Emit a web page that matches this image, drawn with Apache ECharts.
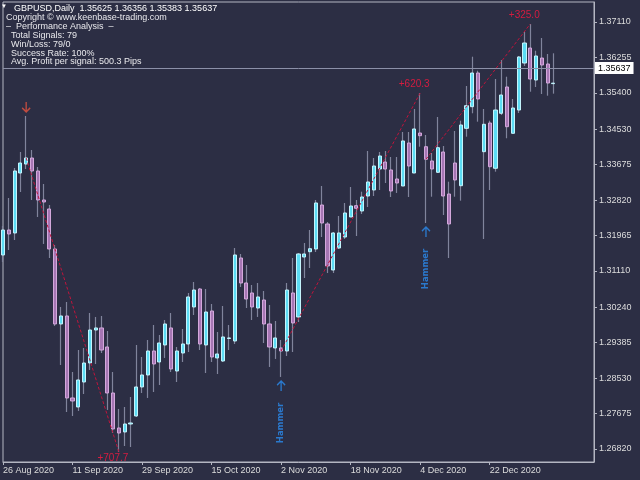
<!DOCTYPE html>
<html><head><meta charset="utf-8">
<script src="https://cdn.jsdelivr.net/npm/echarts@6/dist/echarts.min.js"></script>
<style>html,body{margin:0;padding:0;background:#2c2e44;}#c{width:640px;height:480px;}</style>
</head><body><div id="c"></div>
<script>
const dates = ['26 Aug 2020','27 Aug 2020','28 Aug 2020','31 Aug 2020','1 Sep 2020','2 Sep 2020','3 Sep 2020','4 Sep 2020','7 Sep 2020','8 Sep 2020','9 Sep 2020','10 Sep 2020',
'11 Sep 2020','14 Sep 2020','15 Sep 2020','16 Sep 2020','17 Sep 2020','18 Sep 2020','21 Sep 2020','22 Sep 2020','23 Sep 2020','24 Sep 2020','25 Sep 2020','28 Sep 2020',
'29 Sep 2020','30 Sep 2020','1 Oct 2020','2 Oct 2020','5 Oct 2020','6 Oct 2020','7 Oct 2020','8 Oct 2020','9 Oct 2020','12 Oct 2020','13 Oct 2020','14 Oct 2020',
'15 Oct 2020','16 Oct 2020','19 Oct 2020','20 Oct 2020','21 Oct 2020','22 Oct 2020','23 Oct 2020','26 Oct 2020','27 Oct 2020','28 Oct 2020','29 Oct 2020','30 Oct 2020',
'2 Nov 2020','3 Nov 2020','4 Nov 2020','5 Nov 2020','6 Nov 2020','9 Nov 2020','10 Nov 2020','11 Nov 2020','12 Nov 2020','13 Nov 2020','16 Nov 2020','17 Nov 2020',
'18 Nov 2020','19 Nov 2020','20 Nov 2020','23 Nov 2020','24 Nov 2020','25 Nov 2020','26 Nov 2020','27 Nov 2020','30 Nov 2020','1 Dec 2020','2 Dec 2020','3 Dec 2020',
'4 Dec 2020','7 Dec 2020','8 Dec 2020','9 Dec 2020','10 Dec 2020','11 Dec 2020','14 Dec 2020','15 Dec 2020','16 Dec 2020','17 Dec 2020','18 Dec 2020','21 Dec 2020',
'22 Dec 2020','23 Dec 2020','24 Dec 2020','28 Dec 2020','29 Dec 2020','30 Dec 2020','31 Dec 2020','4 Jan 2021','5 Jan 2021','6 Jan 2021','7 Jan 2021','8 Jan 2021'];
// empty slots to the right of the last bar (chart shift)
const emptySlots = ['','','','','','',''];

const opens = [1.31496,1.32098,1.32026,1.33471,1.33688,1.33833,1.33520,1.32821,1.32604,1.31640,1.29833,1.30026,
1.28050,1.27833,1.28435,1.28893,1.29688,1.29737,1.29279,1.28170,1.27327,1.27231,1.27423,1.27616,
1.28315,1.28604,1.29182,1.28917,1.29327,1.29737,1.28700,1.29134,1.29351,1.30243,1.30676,1.29327,
1.30146,1.29014,1.28941,1.29484,1.29423,1.31423,1.30821,1.30580,1.30218,1.30411,1.29833,1.29255,
1.29255,1.29182,1.30580,1.30002,1.31447,1.31575,1.31640,1.32700,1.32243,1.31134,1.31664,1.31929,
1.32411,1.32684,1.32556,1.32917,1.33062,1.33568,1.33736,1.33544,1.33327,1.33158,1.34194,1.33471,
1.34435,1.34105,1.33761,1.33488,1.33977,1.32965,1.33712,1.33165,1.34548,1.35069,1.35881,1.33985,
1.34676,1.33585,1.34910,1.35544,1.34428,1.34989,1.36122,1.36483,1.35712,1.36242,1.36098,1.35625];
const highs = [1.32194,1.32869,1.33592,1.33977,1.34845,1.34026,1.33616,1.33206,1.32700,1.31737,1.30243,1.30363,
1.28676,1.29206,1.29255,1.30098,1.30002,1.30026,1.29664,1.28676,1.27785,1.27833,1.28074,1.29327,
1.29038,1.29447,1.29809,1.29568,1.29929,1.30098,1.29279,1.29712,1.30580,1.30845,1.30700,1.30676,
1.30315,1.29640,1.30267,1.29809,1.31664,1.31520,1.31255,1.30773,1.30821,1.30628,1.30291,1.29905,
1.29447,1.30821,1.31423,1.31544,1.31785,1.32098,1.32821,1.33158,1.32291,1.32050,1.32435,1.32749,
1.33134,1.32821,1.33021,1.34002,1.33833,1.33977,1.34002,1.33857,1.33857,1.34459,1.34459,1.35014,
1.35399,1.34387,1.33953,1.34821,1.34122,1.33262,1.34483,1.34732,1.35568,1.36274,1.35936,1.35014,
1.34732,1.35736,1.36194,1.35792,1.35255,1.36291,1.36876,1.37062,1.36418,1.36724,1.36339,1.36356];
const lows = [1.31327,1.31616,1.31857,1.33014,1.33568,1.32821,1.32411,1.31761,1.31423,1.29785,1.28845,1.27712,
1.27616,1.27737,1.28146,1.28725,1.28869,1.29134,1.27761,1.27206,1.26749,1.26893,1.26869,1.27592,
1.28170,1.28050,1.28194,1.28363,1.29014,1.28676,1.28435,1.28917,1.29158,1.30050,1.29206,1.28652,
1.28917,1.28628,1.28917,1.29206,1.29351,1.30724,1.30218,1.29929,1.30002,1.29375,1.28797,1.28990,
1.28556,1.29062,1.29158,1.29881,1.30941,1.31182,1.31568,1.31929,1.31062,1.31062,1.31640,1.31881,
1.32411,1.31953,1.32484,1.32652,1.32917,1.33062,1.33230,1.32893,1.32990,1.33158,1.32893,1.33471,
1.34105,1.32267,1.32900,1.33471,1.32459,1.31423,1.32900,1.32804,1.34346,1.34910,1.34708,1.31881,
1.33062,1.33503,1.34869,1.34308,1.34428,1.34917,1.36050,1.35430,1.35544,1.35375,1.35334,1.35383];
const closes = [1.32098,1.32002,1.33520,1.33712,1.33833,1.33520,1.32821,1.32773,1.31640,1.29833,1.30026,1.28050,
1.27978,1.28484,1.28893,1.29688,1.29737,1.29206,1.28170,1.27303,1.27206,1.27423,1.27447,1.28315,
1.28604,1.29182,1.28869,1.29375,1.29833,1.28749,1.29182,1.29351,1.30484,1.30652,1.29351,1.30122,
1.29038,1.29110,1.29520,1.29496,1.31496,1.30821,1.30435,1.30243,1.30484,1.29833,1.29279,1.29496,
1.29182,1.30652,1.29857,1.31520,1.31520,1.31647,1.32749,1.32267,1.31231,1.32026,1.32026,1.32508,
1.32676,1.32621,1.32893,1.33255,1.33640,1.33881,1.33568,1.33038,1.33230,1.34243,1.33640,1.34532,
1.34370,1.33802,1.33568,1.34081,1.32917,1.32243,1.33303,1.34628,1.35093,1.35881,1.35255,1.34645,
1.33623,1.34989,1.35351,1.34587,1.35038,1.36267,1.36604,1.35736,1.36291,1.36074,1.35640,1.35637];

const priceTicks = [1.26820,1.27675,1.28530,1.29385,1.30240,1.31110,1.31965,1.32820,1.33675,1.34530,1.35400,1.36255,1.37110];
const priceMin = 1.26507, priceMax = 1.37592;
const lastPrice = 1.35637;

const hammerIdx = [48, 73];
const sellSignalIdx = [4];
const tradeStartIdx = [4, 48, 73];
const tradeStartPx = [1.33833, 1.29182, 1.33802];
const tradeEndIdx = [20, 72, 91];
const tradeEndPx = [1.26749, 1.35399, 1.37062];
const tradeLabels = ['+707.7', '+620.3', '+325.0'];
const tradeDir = ['sell', 'buy', 'buy'];

const infoLines = ['Copyright \u00A9 www.keenbase-trading.com', '\u2013  Performance Analysis  \u2013',
  'Total Signals: 79', 'Win/Loss: 79/0', 'Success Rate: 100%', 'Avg. Profit per signal: 500.3 Pips'];
const headerText = 'GBPUSD,Daily  1.35625 1.36356 1.35383 1.35637';

const FONT = '"Liberation Sans", Arial, sans-serif';
const BG = '#2c2e44', FRAME = '#b4b6c2', TXT = '#dcdcdc';
const categories = dates.concat(emptySlots);

const wickData = opens.map((o, i) => [o, closes[i], lows[i], highs[i]]);
const bodyData = opens.map((o, i) => [o, closes[i], Math.min(o, closes[i]), Math.max(o, closes[i])]);

const series = [
  { type: 'candlestick', name: 'wicks', data: wickData, barWidth: 0.5, clip: true, silent: true,
    itemStyle: { color: '#80849c', color0: '#80849c', borderColor: '#80849c', borderColor0: '#80849c', borderWidth: 1.2 } },
  { type: 'candlestick', name: 'bodies', data: bodyData, barWidth: 3.6, clip: true, silent: true,
    itemStyle: { color: '#5cdcf4', color0: '#a676b4', borderColor: '#c4f4fc', borderColor0: '#d4a8dc', borderColorDoji: '#d8dce8', borderWidth: 1 },
    markLine: { symbol: 'none', silent: true, animation: false,
      lineStyle: { color: '#8c90a8', width: 1, type: 'solid' },
      label: { show: true, position: 'end', distance: 1, formatter: () => lastPrice.toFixed(5),
        backgroundColor: '#ffffff', color: '#000000', fontFamily: FONT, fontSize: 9, padding: [2, 3, 1, 3] },
      data: [{ yAxis: lastPrice }] } }
];

tradeStartIdx.forEach((s, k) => {
  series.push({ type: 'line', name: 'trade' + k, silent: true, symbol: 'circle', symbolSize: 0, showSymbol: true,
    lineStyle: { color: '#c0143c', width: 1, type: [3, 2] }, itemStyle: { color: '#c0143c' },
    data: [
      { value: [s, tradeStartPx[k]], label: { show: false } },
      { value: [tradeEndIdx[k], tradeEndPx[k]], label: { show: true, position: 'inside', formatter: tradeLabels[k],
        offset: tradeDir[k] === 'sell' ? [-6, 6] : [-6, -9], color: '#d41c40', fontFamily: FONT, fontSize: 10 } }
    ] });
});

// up arrows under hammer candles
series.push({ type: 'scatter', name: 'buyArrows', silent: true,
  symbol: 'path://M0,5 L5,0 L10,5 M5,0 L5,12', symbolSize: [8, 10], symbolOffset: [0, 9],
  itemStyle: { color: 'transparent', borderColor: '#2a8cf0', borderWidth: 1.5 },
  data: hammerIdx.map(i => [i, lows[i]]) });
// hammer text
series.push({ type: 'scatter', name: 'hammerText', silent: true, symbolSize: 0,
  itemStyle: { color: 'transparent' },
  label: { show: true, position: 'inside', formatter: 'Hammer', rotate: 90, offset: [-46, 0],
    color: '#2a8cf0', fontFamily: '"DejaVu Sans", sans-serif', fontWeight: 'bold', fontSize: 8.5 },
  data: hammerIdx.map(i => [i, lows[i]]) });
// down arrow above sell signal
series.push({ type: 'scatter', name: 'sellArrows', silent: true,
  symbol: 'path://M0,7 L5,12 L10,7 M5,12 L5,0', symbolSize: [8, 10], symbolOffset: [0, -9],
  itemStyle: { color: 'transparent', borderColor: '#e4523e', borderWidth: 1.5 },
  data: sellSignalIdx.map(i => [i, highs[i]]) });

const graphic = [
  { type: 'text', left: 1, top: 3, style: { text: '\u25BC', fill: '#ffffff', font: '6px ' + FONT } },
  { type: 'text', left: 14, top: 4, style: { text: headerText, fill: '#ffffff', font: '9px ' + FONT } }
];
infoLines.forEach((t, k) => {
  graphic.push({ type: 'text', left: k < 2 ? 6 : 11, top: 13 + k * 8.9, style: { text: t, fill: '#e8e8ec', font: '9px ' + FONT } });
});

const labelEvery = 12;
const chart = echarts.init(document.getElementById('c'), null, { renderer: 'canvas' });
chart.setOption({
  animation: false,
  backgroundColor: BG,
  grid: { left: 2, right: 46, top: 2, bottom: 18, show: true, borderColor: FRAME, borderWidth: 1, backgroundColor: 'transparent' },
  xAxis: { type: 'category', data: categories, boundaryGap: false,
    axisLine: { show: true, lineStyle: { color: FRAME } },
    axisTick: { show: true, interval: idx => idx % labelEvery === 0 && idx < dates.length, length: 3, lineStyle: { color: FRAME } },
    axisLabel: { interval: idx => idx % labelEvery === 0 && idx < dates.length, align: 'left', margin: 4, color: TXT, fontFamily: FONT, fontSize: 9 },
    splitLine: { show: false } },
  yAxis: { type: 'value', position: 'right', min: priceMin, max: priceMax, scale: true,
    axisLine: { show: true, lineStyle: { color: FRAME } },
    axisTick: { show: true, length: 3, lineStyle: { color: FRAME }, customValues: priceTicks },
    axisLabel: { margin: 5, color: TXT, fontFamily: FONT, fontSize: 9, customValues: priceTicks, formatter: v => v.toFixed(5) },
    splitLine: { show: false } },
  graphic: graphic,
  series: series
});
</script></body></html>
